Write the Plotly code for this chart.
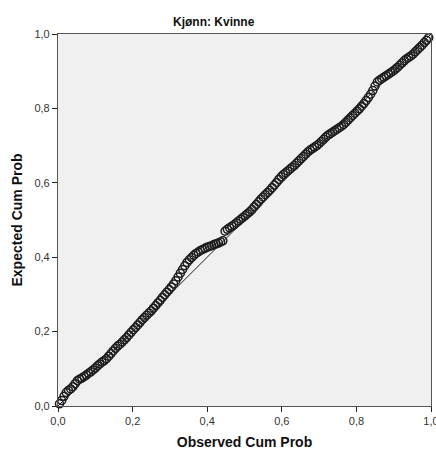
import plotly.graph_objects as go

# Observed cumulative probability (x) and expected cumulative probability (y)
observed = [0.004, 0.010, 0.016, 0.022, 0.028, 0.034, 0.040, 0.046, 0.052, 0.058,
            0.064, 0.070, 0.076, 0.082, 0.088, 0.094, 0.100, 0.106, 0.112, 0.118,
            0.124, 0.130, 0.136, 0.142, 0.148, 0.154, 0.160, 0.166, 0.172, 0.178,
            0.184, 0.190, 0.196, 0.202, 0.208, 0.214, 0.220, 0.226, 0.232, 0.238,
            0.244, 0.250, 0.256, 0.262, 0.268, 0.274, 0.280, 0.286, 0.292, 0.298,
            0.304, 0.310, 0.316, 0.322, 0.328, 0.334, 0.340, 0.346, 0.352, 0.358,
            0.364, 0.370, 0.376, 0.382, 0.388, 0.394, 0.400, 0.406, 0.412, 0.418,
            0.424, 0.430, 0.436, 0.442, 0.448, 0.454, 0.460, 0.466, 0.472, 0.478,
            0.484, 0.490, 0.496, 0.502, 0.508, 0.514, 0.520, 0.526, 0.532, 0.538,
            0.544, 0.550, 0.556, 0.562, 0.568, 0.574, 0.580, 0.586, 0.592, 0.598,
            0.604, 0.610, 0.616, 0.622, 0.628, 0.634, 0.640, 0.646, 0.652, 0.658,
            0.664, 0.670, 0.676, 0.682, 0.688, 0.694, 0.700, 0.706, 0.712, 0.718,
            0.724, 0.730, 0.736, 0.742, 0.748, 0.754, 0.760, 0.766, 0.772, 0.778,
            0.784, 0.790, 0.796, 0.802, 0.808, 0.814, 0.820, 0.826, 0.832, 0.838,
            0.844, 0.850, 0.856, 0.862, 0.868, 0.874, 0.880, 0.886, 0.892, 0.898,
            0.904, 0.910, 0.916, 0.922, 0.928, 0.934, 0.940, 0.946, 0.952, 0.958,
            0.964, 0.970, 0.976, 0.982, 0.988, 0.994]
expected = [0.006, 0.015, 0.026, 0.036, 0.042, 0.046, 0.052, 0.060, 0.068, 0.072,
            0.075, 0.079, 0.083, 0.088, 0.092, 0.097, 0.102, 0.108, 0.113, 0.118,
            0.122, 0.127, 0.134, 0.141, 0.148, 0.155, 0.161, 0.166, 0.172, 0.178,
            0.184, 0.191, 0.198, 0.205, 0.211, 0.218, 0.225, 0.232, 0.238, 0.244,
            0.250, 0.256, 0.263, 0.270, 0.277, 0.284, 0.292, 0.299, 0.306, 0.313,
            0.320, 0.328, 0.337, 0.347, 0.357, 0.367, 0.377, 0.386, 0.393, 0.399,
            0.405, 0.410, 0.414, 0.418, 0.421, 0.424, 0.427, 0.429, 0.431, 0.434,
            0.436, 0.438, 0.441, 0.444, 0.470, 0.475, 0.479, 0.483, 0.487, 0.492,
            0.497, 0.502, 0.507, 0.512, 0.517, 0.522, 0.528, 0.535, 0.542, 0.549,
            0.556, 0.562, 0.568, 0.574, 0.580, 0.587, 0.594, 0.601, 0.609, 0.616,
            0.622, 0.627, 0.632, 0.637, 0.642, 0.647, 0.653, 0.659, 0.665, 0.671,
            0.677, 0.683, 0.688, 0.692, 0.696, 0.700, 0.705, 0.711, 0.717, 0.723,
            0.728, 0.732, 0.736, 0.740, 0.744, 0.748, 0.752, 0.757, 0.763, 0.769,
            0.775, 0.781, 0.787, 0.793, 0.799, 0.806, 0.813, 0.821, 0.829, 0.838,
            0.848, 0.860, 0.871, 0.876, 0.880, 0.884, 0.888, 0.892, 0.896, 0.900,
            0.905, 0.910, 0.916, 0.922, 0.928, 0.933, 0.937, 0.941, 0.946, 0.952,
            0.958, 0.964, 0.970, 0.977, 0.983, 0.990]

diag_x = [0.0, 1.0]
diag_y = [0.0, 1.0]

tick_vals = [0.0, 0.2, 0.4, 0.6, 0.8, 1.0]
tick_text = ["0,0", "0,2", "0,4", "0,6", "0,8", "1,0"]

subtitle = "Kjønn: Kvinne"
x_title = "Observed Cum Prob"
y_title = "Expected Cum Prob"

FONT = "Liberation Sans, Arial, sans-serif"

fig = go.Figure()
fig.add_trace(go.Scatter(x=diag_x, y=diag_y, mode="lines",
                         line=dict(color="#222222", width=1), hoverinfo="skip"))
fig.add_trace(go.Scatter(x=observed, y=expected, mode="markers",
                         marker=dict(symbol="circle-open", size=8,
                                     color="#1c1c1c", line=dict(width=1.5)),
                         cliponaxis=False))

axis_common = dict(range=[0, 1], tickvals=tick_vals, ticktext=tick_text,
                   ticks="outside", ticklen=5, tickcolor="#222222", tickwidth=1,
                   showgrid=False, zeroline=False, showline=True, mirror=True,
                   linecolor="#555555", linewidth=1.2, ticklabeloverflow="allow",
                   tickfont=dict(family=FONT, size=11, color="#333333"))

fig.update_layout(
    width=436, height=453,
    margin=dict(l=58, r=5, t=34, b=47, autoexpand=False),
    paper_bgcolor="white", plot_bgcolor="#F0F0F0",
    showlegend=False,
    xaxis=dict(**axis_common,
               title=dict(text="<b>" + x_title + "</b>", standoff=10,
                          font=dict(family=FONT, size=14, color="#111111"))),
    yaxis=dict(**axis_common,
               title=dict(text="<b>" + y_title + "</b>", standoff=8,
                          font=dict(family=FONT, size=14, color="#111111"))),
    annotations=[dict(text="<b>" + subtitle + "</b>", xref="paper", yref="paper",
                      x=0.419, y=1.032, xanchor="center", yanchor="middle",
                      showarrow=False,
                      font=dict(family=FONT, size=12, color="#111111"))],
)

fig.write_html("out.html",
               config={"displayModeBar": False},
               post_script="document.body.style.margin='0';"
                           "document.body.style.overflow='hidden';")
